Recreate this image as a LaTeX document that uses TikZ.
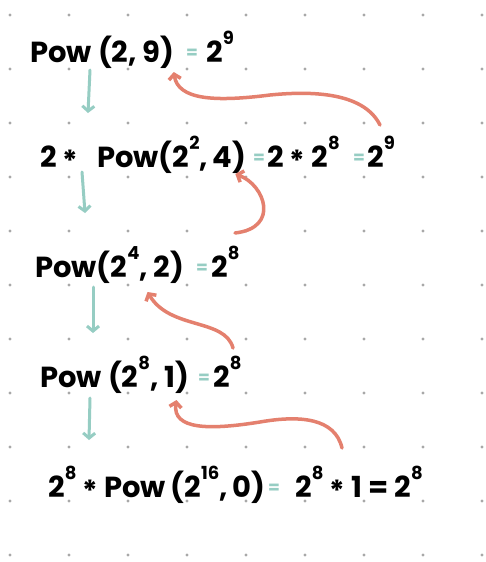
\documentclass[tikz,border=0pt]{standalone}
\usepackage{fontspec}
\setmainfont{Poppins}
\usetikzlibrary{arrows.meta,positioning}

\definecolor{mint}{HTML}{96CDC3}
\definecolor{salmon}{HTML}{E4806E}
\definecolor{dotgray}{HTML}{A8A8A8}

% exponent and times sign
\newcommand\pw[1]{\raisebox{.6em}{\fontsize{18}{18}\selectfont #1}}
\newcommand\tms{\raisebox{-.15em}{*}}

\tikzset{
  expr/.style={anchor=base west, inner sep=0pt, font=\fontsize{29}{29}\selectfont\bfseries},
  eqsign/.style={anchor=base west, inner sep=0pt, text=mint, font=\fontsize{17}{17}\selectfont\bfseries},
  down/.style={mint, line width=3pt, line cap=round, -{Straight Barb[length=5pt,width=12pt]}},
  back/.style={salmon, line width=3.5pt, line cap=round, -{Straight Barb[length=5pt,width=12pt]}},
}

\begin{document}
\begin{tikzpicture}[x=1pt, y=-1pt]
    \useasboundingbox[fill=white] (0,0) rectangle (486,562);
    % dot grid
    \foreach \i in {0,...,8}
        \foreach \j in {0,...,10}
            \fill[dotgray] ({10+59*\i},{15+54*\j}) circle (1.6pt);

    % the calls
    \node[expr] (pow1) at (30,62) {Pow (2, 9)};
    \node[eqsign] (eq1) at (186,58) {=};
    \node[expr] (res1) at (206,62) {2\pw{9}};

    \node[expr] (two2) at (40,167) {2 \tms};
    \node[expr] (pow2) at (97,167) {Pow(2\pw{2},\,4)};
    \node[eqsign] (eq2a) at (253,163) {=};
    \node[expr] (mid2) at (267,167) {2 \tms{} 2\pw{8}};
    \node[eqsign] (eq2b) at (353,163) {=};
    \node[expr] (res2) at (367,167) {2\pw{9}};

    \node[expr] (pow3) at (35,277) {Pow(2\pw{4}, 2)};
    \node[eqsign] (eq3) at (196,273) {=};
    \node[expr] (res3) at (211,277) {2\pw{8}};

    \node[expr] (pow4) at (40,387) {Pow (2\pw{8}, 1)};
    \node[eqsign] (eq4) at (198,383) {=};
    \node[expr] (res4) at (213,387) {2\pw{8}};

    \node[expr] (two5) at (48,497) {2\pw{8} \tms};
    \node[expr] (pow5) at (104,497) {Pow\,(2\pw{16},\,0)};
    \node[eqsign] (eq5) at (268,493) {=};
    \node[expr] (mid5) at (295,497) {2\pw{8} \tms{} 1 = 2\pw{8}};

    % going down
    \draw[down] ([xshift=60pt,yshift=-8pt]pow1.base west) -- ([xshift=48pt,yshift=54pt]two2.base west);
    \draw[down] ([xshift=42pt,yshift=-5pt]two2.base west) -- ([xshift=50pt,yshift=64pt]pow3.base west);
    \draw[down] ([xshift=58pt,yshift=-10pt]pow3.base west) -- ([xshift=53pt,yshift=54pt]pow4.base west);
    \draw[down] ([xshift=50pt,yshift=-11pt]pow4.base west) -- ([xshift=41pt,yshift=57pt]two5.base west);

    % coming back up
    \draw[back] ([xshift=13pt,yshift=42pt]res2.base west) .. controls (365,95) and (320,90) .. (270,95)
        .. controls (215,102) and (178,100) .. ([xshift=-1pt,yshift=-10pt]pow1.base east);
    \draw[back] ([xshift=24pt,yshift=44pt]res3.base west) .. controls (280,228) and (265,185)
        .. ([xshift=-11pt,yshift=-7pt]pow2.base east);
    \draw[back] ([xshift=20pt,yshift=39pt]res4.base west) .. controls (225,318) and (170,330)
        .. ([xshift=-37pt,yshift=-15pt]pow3.base east);
    \draw[back] ([xshift=47pt,yshift=49pt]mid5.base west) .. controls (335,418) and (300,415) .. (260,422)
        .. controls (210,430) and (172,430) .. ([xshift=-13pt,yshift=-13pt]pow4.base east);
\end{tikzpicture}
\end{document}
